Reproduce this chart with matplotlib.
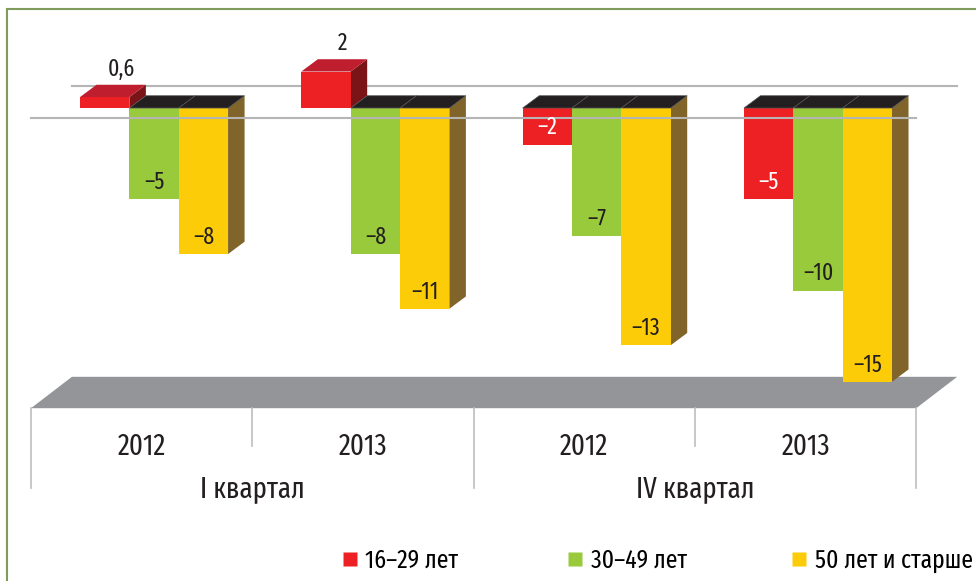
import matplotlib
matplotlib.use("Agg")
from matplotlib import pyplot as plt
from matplotlib.patches import Polygon, Rectangle
from matplotlib.lines import Line2D

plt.rcParams['font.family'] = ['Fira Sans Extra Condensed', 'Fira Sans Condensed', 'DejaVu Sans']
plt.rcParams['font.stretch'] = 'extra-condensed'

years = ["2012", "2013", "2012", "2013"]
quarters = ["I квартал", "IV квартал"]
series_names = ["16–29 лет", "30–49 лет", "50 лет и старше"]
age_16_29 = [0.6, 2, -2, -5]
age_30_49 = [-5, -8, -7, -10]
age_50_up = [-8, -11, -13, -15]

front_colors = ["#ED2024", "#99CA3C", "#FDCC08"]
top_colors = ["#BE1E2D", "#7FA832", "#D9AE0A"]
side_colors = ["#7A1416", "#5D7D22", "#806429"]
dark_top = "#231F20"
label_colors = ["white", "#231F20", "#231F20"]

big, small, leg = 21, 17, 18.5

# layout (data units: 1 = one category, y = value)
W = 0.223          # bar width
DX, DY = 0.0746, 0.674   # bar depth offset
FDX, FDY = 0.185, 1.72   # floor depth offset
FLOOR = -15.59     # floor level (middle of depth)
X0 = -0.556        # left edge of floor (front)


def fmt(v):
    return f"{v:g}".replace(".", ",").replace("-", "–")


fig = plt.figure(figsize=(9.76, 5.81), dpi=100)
ax = fig.add_axes([0, 0, 1, 1])
ax.set_xlim(-0.696, 3.714)
ax.set_ylim(-25.92, 5.92)
ax.axis("off")

n = len(years)

# floor
fl = FLOOR - FDY / 2
floor = Polygon([(X0, fl), (X0 + n, fl), (X0 + n + FDX, fl + FDY), (X0 + FDX, fl + FDY)],
                closed=True, facecolor="#939598", edgecolor="none", zorder=1)
ax.add_patch(floor)

# zero gridline, back and front part
g_mid = DY / 2
ax.plot([X0 + FDX, X0 + n + FDX], [g_mid + FDY / 2] * 2, color="#B5B5B5", lw=1.5, zorder=2)
ax.plot([X0, X0 + n], [g_mid - FDY / 2] * 2, color="#B5B5B5", lw=1.5, zorder=90)

series = [age_16_29, age_30_49, age_50_up]
z = 5
for i in range(n):
    for j, vals in enumerate(series):
        v = vals[i]
        left = i - 1.5 * W + j * W
        right = left + W
        # side
        side = Polygon([(right, 0), (right + DX, DY), (right + DX, v + DY), (right, v)],
                       closed=True, facecolor=side_colors[j], edgecolor="none", zorder=z)
        ax.add_patch(side)
        # front
        ax.bar(left, v, width=W, align="edge", color=front_colors[j], zorder=z + 1)
        # top
        top_y = max(v, 0)
        tc = top_colors[j] if v > 0 else dark_top
        ec = "none" if v > 0 else "#555555"
        top = Polygon([(left, top_y), (right, top_y), (right + DX, top_y + DY), (left + DX, top_y + DY)],
                      closed=True, facecolor=tc, edgecolor=ec, lw=0.5, zorder=z + 2)
        ax.add_patch(top)
        z += 3
        cx = left + W / 2
        if v > 0:
            ax.text(cx + DX, v + DY + 0.5, fmt(v), ha="center", va="baseline",
                    fontsize=small, color="#231F20", zorder=100)
        else:
            ax.text(cx, v + 0.55, fmt(v), ha="center", va="baseline",
                    fontsize=small, color=label_colors[j], zorder=100)

# category separators below the floor
for k in range(n + 1):
    bottom = -20.82 if k % 2 == 0 else -18.52
    ax.plot([X0 + k, X0 + k], [fl, bottom], color="#BDBDBD", lw=1.2, zorder=2)

for i, yr in enumerate(years):
    ax.text(X0 + i + 0.5, -19.0, yr, ha="center", va="baseline", fontsize=big, color="#231F20")
for q, name in enumerate(quarters):
    ax.text(X0 + 2 * q + 1, -21.3, name, ha="center", va="baseline", fontsize=big, color="#231F20")

# legend, one entry per column position
legend_x = [0.3505, 0.5815, 0.811]
for c, name, lx in zip(front_colors, series_names, legend_x):
    h = Line2D([], [], marker="s", linestyle="none", markersize=10,
               markerfacecolor=c, markeredgecolor="none")
    fig.legend([h], [name], loc="center left", bbox_to_anchor=(lx, 0.035),
               frameon=False, fontsize=leg, handlelength=0.6, handletextpad=0.3,
               borderpad=0, borderaxespad=0)

# frame around the chart
frame = Rectangle((7 / 976, -0.1), 1.2, 1 - 9 / 581 + 0.1, transform=fig.transFigure,
                  fill=False, edgecolor="#7F9C5C", lw=1.5, clip_on=False)
fig.add_artist(frame)

fig.savefig("out.png", dpi=100, facecolor="white")
